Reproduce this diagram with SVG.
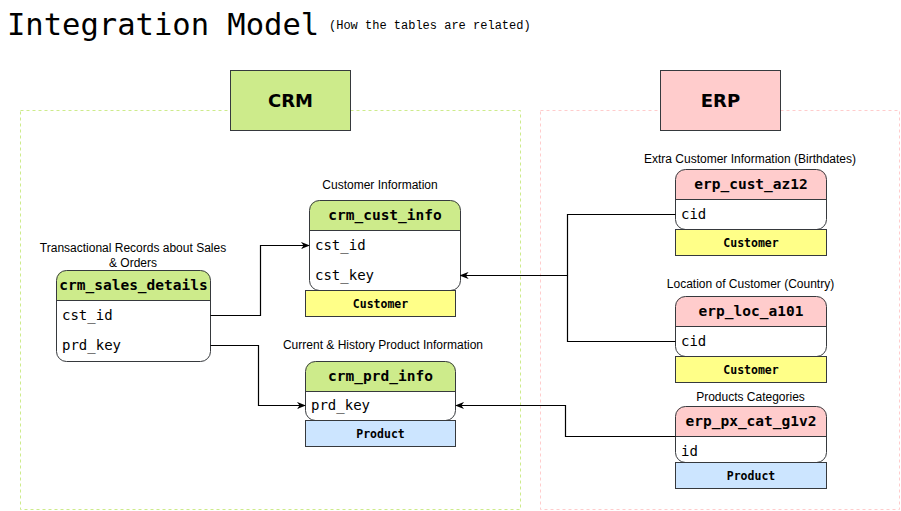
<svg xmlns="http://www.w3.org/2000/svg" width="901" height="511" viewBox="0 0 901 511">
<style>
.title{font-family:"DejaVu Sans Mono","Liberation Mono",monospace;font-size:30.5px;fill:#000}
.sub{font-family:"Liberation Mono","DejaVu Sans Mono",monospace;font-size:12px;fill:#000}
.lbl{font-family:"Liberation Sans",Arial,sans-serif;font-size:12px;fill:#000;text-anchor:middle}
.grp{font-family:"DejaVu Sans","Liberation Sans",sans-serif;font-size:18px;font-weight:bold;fill:#000;text-anchor:middle}
.th{font-family:"DejaVu Sans Mono","Liberation Mono",monospace;font-size:14.5px;font-weight:bold;fill:#000;text-anchor:middle}
.fld{font-family:"DejaVu Sans Mono","Liberation Mono",monospace;font-size:14px;fill:#000}
.tag{font-family:"DejaVu Sans Mono","Liberation Mono",monospace;font-size:11.5px;font-weight:bold;fill:#000;text-anchor:middle}
.body{fill:#fff;stroke:none}
.outline{fill:none;stroke:#36393d;stroke-width:1}
.sep{stroke:#36393d;stroke-width:1}
.crmh{fill:#cdeb8b}
.erph{fill:#ffcccc}
.cust{fill:#ffff88;stroke:#36393d}
.prod{fill:#cce5ff;stroke:#36393d}
.edge{fill:none;stroke:#000;stroke-width:1.2}
</style>
<defs>
<marker id="arr" viewBox="0 0 10 8" refX="9" refY="4" markerWidth="9" markerHeight="8" markerUnits="userSpaceOnUse" orient="auto">
<path d="M0,0 L10,4 L0,8 L3,4 Z" fill="#000"/>
</marker>
</defs>
<rect width="901" height="511" fill="#fff"/>
<text class="title" x="7" y="35">Integration Model</text>
<text class="sub" x="329" y="29">(How the tables are related)</text>

<g id="crm-area">
<rect x="20.5" y="110.5" width="500" height="399" fill="none" stroke="#cdeb8b" stroke-dasharray="3,3"/>
<rect x="230.5" y="70.5" width="120" height="60" fill="#cdeb8b" stroke="#36393d"/>
<text class="grp" x="290.5" y="107">CRM</text>
</g>
<g id="erp-area">
<rect x="540.5" y="110.5" width="359" height="399" fill="none" stroke="#ffcccc" stroke-dasharray="3,3"/>
<rect x="660.5" y="70.5" width="120" height="60" fill="#ffcccc" stroke="#36393d"/>
<text class="grp" x="720.5" y="107">ERP</text>
</g>

<g id="crm_sales_details">
<text class="lbl" x="133" y="252">Transactional Records about Sales</text>
<text class="lbl" x="133" y="267">&amp; Orders</text>
<rect class="body" x="56.5" y="270.5" width="154" height="91" rx="10"/>
<path class="crmh" d="M56.5,300.5 V280.5 Q56.5,270.5 66.5,270.5 H200.5 Q210.5,270.5 210.5,280.5 V300.5 Z"/>
<rect class="outline" x="56.5" y="270.5" width="154" height="91" rx="10"/>
<line class="sep" x1="56.5" y1="300.5" x2="210.5" y2="300.5"/>
<text class="th" x="133.5" y="290">crm_sales_details</text>
<text class="fld" x="62" y="320">cst_id</text>
<text class="fld" x="62" y="350">prd_key</text>
</g>

<g id="crm_cust_info">
<text class="lbl" x="380" y="189">Customer Information</text>
<rect class="body" x="309.5" y="200.5" width="151" height="90" rx="10"/>
<path class="crmh" d="M309.5,230.5 V210.5 Q309.5,200.5 319.5,200.5 H450.5 Q460.5,200.5 460.5,210.5 V230.5 Z"/>
<rect class="outline" x="309.5" y="200.5" width="151" height="90" rx="10"/>
<line class="sep" x1="309.5" y1="230.5" x2="460.5" y2="230.5"/>
<text class="th" x="385" y="220">crm_cust_info</text>
<text class="fld" x="315" y="250">cst_id</text>
<text class="fld" x="315" y="280">cst_key</text>
<rect class="cust" x="305.5" y="290.5" width="150" height="26"/>
<text class="tag" x="380.5" y="307.5">Customer</text>
</g>

<g id="crm_prd_info">
<text class="lbl" x="383" y="349">Current &amp; History Product Information</text>
<rect class="body" x="305.5" y="361.5" width="150" height="59" rx="10"/>
<path class="crmh" d="M305.5,391.5 V371.5 Q305.5,361.5 315.5,361.5 H445.5 Q455.5,361.5 455.5,371.5 V391.5 Z"/>
<rect class="outline" x="305.5" y="361.5" width="150" height="59" rx="10"/>
<line class="sep" x1="305.5" y1="391.5" x2="455.5" y2="391.5"/>
<text class="th" x="380.5" y="381">crm_prd_info</text>
<text class="fld" x="311" y="410">prd_key</text>
<rect class="prod" x="305.5" y="420.5" width="150" height="26"/>
<text class="tag" x="380.5" y="437.5">Product</text>
</g>

<g id="erp_cust_az12">
<text class="lbl" x="750" y="163">Extra Customer Information (Birthdates)</text>
<rect class="body" x="675.5" y="169.5" width="151" height="60" rx="10"/>
<path class="erph" d="M675.5,199.5 V179.5 Q675.5,169.5 685.5,169.5 H816.5 Q826.5,169.5 826.5,179.5 V199.5 Z"/>
<rect class="outline" x="675.5" y="169.5" width="151" height="60" rx="10"/>
<line class="sep" x1="675.5" y1="199.5" x2="826.5" y2="199.5"/>
<text class="th" x="751" y="189">erp_cust_az12</text>
<text class="fld" x="681" y="219">cid</text>
<rect class="cust" x="675.5" y="229.5" width="151" height="26"/>
<text class="tag" x="751" y="246.5">Customer</text>
</g>

<g id="erp_loc_a101">
<text class="lbl" x="750.5" y="288">Location of Customer (Country)</text>
<rect class="body" x="675.5" y="296.5" width="151" height="60" rx="10"/>
<path class="erph" d="M675.5,326.5 V306.5 Q675.5,296.5 685.5,296.5 H816.5 Q826.5,296.5 826.5,306.5 V326.5 Z"/>
<rect class="outline" x="675.5" y="296.5" width="151" height="60" rx="10"/>
<line class="sep" x1="675.5" y1="326.5" x2="826.5" y2="326.5"/>
<text class="th" x="751" y="316">erp_loc_a101</text>
<text class="fld" x="681" y="346">cid</text>
<rect class="cust" x="675.5" y="356.5" width="151" height="26"/>
<text class="tag" x="751" y="373.5">Customer</text>
</g>

<g id="erp_px_cat_g1v2">
<text class="lbl" x="750.5" y="401">Products Categories</text>
<rect class="body" x="675.5" y="406.5" width="151" height="56" rx="10"/>
<path class="erph" d="M675.5,436.5 V416.5 Q675.5,406.5 685.5,406.5 H816.5 Q826.5,406.5 826.5,416.5 V436.5 Z"/>
<rect class="outline" x="675.5" y="406.5" width="151" height="56" rx="10"/>
<line class="sep" x1="675.5" y1="436.5" x2="826.5" y2="436.5"/>
<text class="th" x="751" y="426">erp_px_cat_g1v2</text>
<text class="fld" x="681" y="456">id</text>
<rect class="prod" x="675.5" y="462.5" width="151" height="26"/>
<text class="tag" x="751" y="479.5">Product</text>
</g>

<g id="connectors">
<path class="edge" d="M210.5,315.5 H260.5 V245.5 H309" marker-end="url(#arr)"/>
<path class="edge" d="M210.5,345.5 H258.5 V405.5 H305" marker-end="url(#arr)"/>
<path class="edge" d="M675.5,214.5 H567.5 V275.5 H460.5" marker-end="url(#arr)"/>
<path class="edge" d="M675.5,341.5 H567.5 V275.5"/>
<path class="edge" d="M675.5,436.5 H565.5 V405.5 H456" marker-end="url(#arr)"/>
</g>
</svg>
